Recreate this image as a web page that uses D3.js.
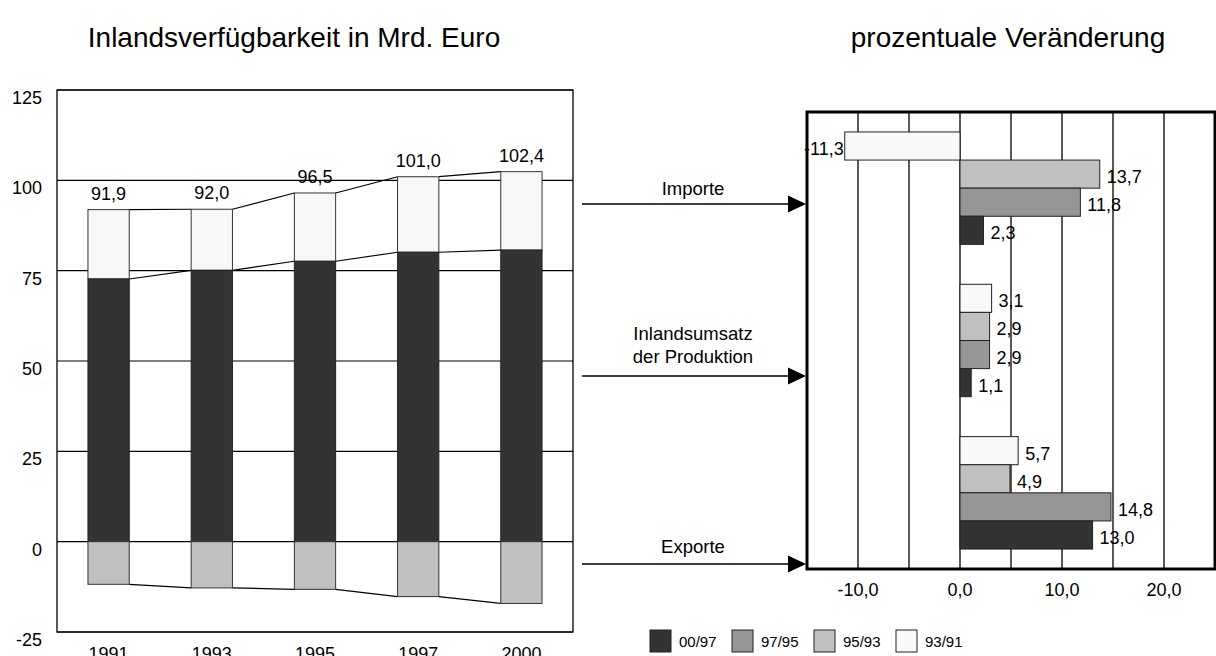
<!DOCTYPE html>
<html>
<head>
<meta charset="utf-8">
<script src="https://cdn.jsdelivr.net/npm/d3@7"></script>
<style>
  body { margin: 0; background: #fff; }
  text { font-family: "Liberation Sans", Arial, sans-serif; fill: #000; }
</style>
</head>
<body>
<div id="chart"></div>
<script>
// data - left chart (Mrd. Euro)
var years = ["1991", "1993", "1995", "1997", "2000"];
var inland = [72.7, 75.1, 77.6, 80.1, 80.7];
var total = [91.9, 92.0, 96.5, 101.0, 102.4];
var exports = [-11.8, -12.8, -13.2, -15.2, -17.1];
var yTicks = [-25, 0, 25, 50, 75, 100, 125];

// data - right chart (prozentuale Veränderung)
var groups = ["Importe", "Inlandsumsatz", "Exporte"];
var periods = ["93/91", "95/93", "97/95", "00/97"];
var chg9391 = [-11.3, 3.1, 5.7];
var chg9593 = [13.7, 2.9, 4.9];
var chg9795 = [11.8, 2.9, 14.8];
var chg0097 = [2.3, 1.1, 13.0];
var xTicks = [-10, 0, 10, 20];
var legendOrder = ["00/97", "97/95", "95/93", "93/91"];

var colors = {"00/97": "#333333", "97/95": "#969696", "95/93": "#c0c0c0", "93/91": "#f8f8f8"};
var series = {"93/91": chg9391, "95/93": chg9593, "97/95": chg9795, "00/97": chg0097};

var de = d3.formatLocale({decimal: ",", thousands: ".", grouping: [3], currency: ["", " €"], minus: "-"});
var f1 = de.format(".1f");
var f0 = de.format("d");

var svg = d3.select("#chart").append("svg")
    .attr("width", 1216)
    .attr("height", 656);

// ---------- left chart ----------
var L = {left: 57, right: 573, top: 90, bottom: 632};

var x = d3.scaleBand()
    .domain(years)
    .range([L.left, L.right])
    .paddingInner(0.6)
    .paddingOuter(0.3);
var y = d3.scaleLinear()
    .domain([-25, 125])
    .range([L.bottom, L.top]);

// title
svg.append("text")
    .attr("x", 294)
    .attr("y", 47)
    .attr("text-anchor", "middle")
    .style("font-size", "28px")
    .text("Inlandsverfügbarkeit in Mrd. Euro");

// gridlines
svg.append("g").selectAll("line")
    .data(yTicks)
    .enter().append("line")
    .attr("x1", L.left).attr("x2", L.right)
    .attr("y1", function(d) { return y(d); })
    .attr("y2", function(d) { return y(d); })
    .attr("stroke", "#000")
    .attr("stroke-width", 1.2);

// y labels
svg.append("g").selectAll("text")
    .data(yTicks)
    .enter().append("text")
    .attr("x", 42)
    .attr("y", function(d) { return y(d) + 14; })
    .attr("text-anchor", "end")
    .style("font-size", "18px")
    .text(function(d) { return f0(d); });

// x labels
svg.append("g").selectAll("text")
    .data(years)
    .enter().append("text")
    .attr("x", function(d) { return x(d) + x.bandwidth() / 2; })
    .attr("y", 660)
    .attr("text-anchor", "middle")
    .style("font-size", "18px")
    .text(function(d) { return d; });

// connecting lines between bars
function connect(vals) {
    var pts = [];
    for (var i = 0; i < years.length - 1; i++) {
        pts.push([x(years[i]) + x.bandwidth(), y(vals[i]), x(years[i + 1]), y(vals[i + 1])]);
    }
    svg.append("g").selectAll("line")
        .data(pts)
        .enter().append("line")
        .attr("x1", function(d) { return d[0]; })
        .attr("y1", function(d) { return d[1]; })
        .attr("x2", function(d) { return d[2]; })
        .attr("y2", function(d) { return d[3]; })
        .attr("stroke", "#000")
        .attr("stroke-width", 1.2);
}
connect(total);
connect(inland);
connect(exports);

var bars = svg.append("g");
// imports (top part)
bars.selectAll(".imp")
    .data(years)
    .enter().append("rect")
    .attr("x", function(d) { return x(d); })
    .attr("width", x.bandwidth())
    .attr("y", function(d, i) { return y(total[i]); })
    .attr("height", function(d, i) { return y(inland[i]) - y(total[i]); })
    .attr("fill", "#f7f7f7")
    .attr("stroke", "#333")
    .attr("stroke-width", 1);
// inland production
bars.selectAll(".inl")
    .data(years)
    .enter().append("rect")
    .attr("x", function(d) { return x(d); })
    .attr("width", x.bandwidth())
    .attr("y", function(d, i) { return y(inland[i]); })
    .attr("height", function(d, i) { return y(0) - y(inland[i]); })
    .attr("fill", "#333333")
    .attr("stroke", "#222")
    .attr("stroke-width", 1);
// exports (negative)
bars.selectAll(".exp")
    .data(years)
    .enter().append("rect")
    .attr("x", function(d) { return x(d); })
    .attr("width", x.bandwidth())
    .attr("y", y(0))
    .attr("height", function(d, i) { return y(exports[i]) - y(0); })
    .attr("fill", "#c0c0c0")
    .attr("stroke", "#333")
    .attr("stroke-width", 1);

// totals above bars
svg.append("g").selectAll("text")
    .data(years)
    .enter().append("text")
    .attr("x", function(d) { return x(d) + x.bandwidth() / 2; })
    .attr("y", function(d, i) { return y(total[i]) - 10; })
    .attr("text-anchor", "middle")
    .style("font-size", "18px")
    .text(function(d, i) { return f1(total[i]); });

// frame
svg.append("rect")
    .attr("x", L.left).attr("y", L.top)
    .attr("width", L.right - L.left).attr("height", L.bottom - L.top)
    .attr("fill", "none")
    .attr("stroke", "#000")
    .attr("stroke-width", 1.3);

// ---------- right chart ----------
var R = {left: 807, right: 1215, top: 112, bottom: 569};

var xr = d3.scaleLinear()
    .domain([-15, 25])
    .range([R.left, R.right]);
var yr = d3.scaleBand()
    .domain(groups)
    .range([R.top, R.bottom])
    .paddingInner(0.262)
    .paddingOuter(0.131);
var ys = d3.scaleBand()
    .domain(periods)
    .range([0, yr.bandwidth()]);

svg.append("text")
    .attr("x", 1008)
    .attr("y", 47)
    .attr("text-anchor", "middle")
    .style("font-size", "28px")
    .text("prozentuale Veränderung");

// vertical gridlines
svg.append("g").selectAll("line")
    .data(d3.range(-10, 25, 5))
    .enter().append("line")
    .attr("x1", function(d) { return xr(d); })
    .attr("x2", function(d) { return xr(d); })
    .attr("y1", R.top).attr("y2", R.bottom)
    .attr("stroke", "#222")
    .attr("stroke-width", 1.5);

// bars
var gb = svg.append("g").selectAll("g")
    .data(groups)
    .enter().append("g")
    .attr("transform", function(d) { return "translate(0," + yr(d) + ")"; });

gb.selectAll("rect")
    .data(function(g, gi) { return periods.map(function(p) { return {p: p, v: series[p][gi]}; }); })
    .enter().append("rect")
    .attr("x", function(d) { return xr(Math.min(0, d.v)); })
    .attr("width", function(d) { return Math.abs(xr(d.v) - xr(0)); })
    .attr("y", function(d) { return ys(d.p); })
    .attr("height", ys.bandwidth())
    .attr("fill", function(d) { return colors[d.p]; })
    .attr("stroke", "#222")
    .attr("stroke-width", 1);

gb.selectAll("text")
    .data(function(g, gi) { return periods.map(function(p) { return {p: p, v: series[p][gi]}; }); })
    .enter().append("text")
    .attr("x", function(d) { return d.v < 0 ? xr(d.v) - 1 : xr(d.v) + 7; })
    .attr("y", function(d) { return ys(d.p) + ys.bandwidth() / 2 + 9; })
    .attr("text-anchor", function(d) { return d.v < 0 ? "end" : "start"; })
    .style("font-size", "18px")
    .text(function(d) { return f1(d.v); });

// x axis labels
svg.append("g").selectAll("text")
    .data(xTicks)
    .enter().append("text")
    .attr("x", function(d) { return xr(d); })
    .attr("y", 596)
    .attr("text-anchor", "middle")
    .style("font-size", "18px")
    .text(function(d) { return f1(d); });

// frame
svg.append("rect")
    .attr("x", R.left).attr("y", R.top)
    .attr("width", R.right - R.left).attr("height", R.bottom - R.top)
    .attr("fill", "none")
    .attr("stroke", "#000")
    .attr("stroke-width", 3);

// ---------- arrows ----------
var arrows = [
    {lines: ["Importe"], ty: 195, ay: 204},
    {lines: ["Inlandsumsatz", "der Produktion"], ty: 340, ay: 376},
    {lines: ["Exporte"], ty: 553, ay: 564}
];
var ag = svg.append("g");
arrows.forEach(function(a) {
    a.lines.forEach(function(t, i) {
        ag.append("text")
            .attr("x", 693)
            .attr("y", a.ty + i * 23)
            .attr("text-anchor", "middle")
            .style("font-size", "18.5px")
            .text(t);
    });
    ag.append("line")
        .attr("x1", 582).attr("x2", 790)
        .attr("y1", a.ay).attr("y2", a.ay)
        .attr("stroke", "#000")
        .attr("stroke-width", 1.3);
    ag.append("path")
        .attr("d", "M788," + (a.ay - 8.5) + "L806," + a.ay + "L788," + (a.ay + 8.5) + "Z")
        .attr("fill", "#000");
});

// ---------- legend ----------
var lg = svg.append("g").selectAll("g")
    .data(legendOrder)
    .enter().append("g")
    .attr("transform", function(d, i) { return "translate(" + (650 + i * 82) + ",630)"; });
lg.append("rect")
    .attr("width", 21).attr("height", 22)
    .attr("fill", function(d) { return colors[d]; })
    .attr("stroke", "#222")
    .attr("stroke-width", 1);
lg.append("text")
    .attr("x", 29)
    .attr("y", 17)
    .style("font-size", "15px")
    .text(function(d) { return d; });
</script>
</body>
</html>
